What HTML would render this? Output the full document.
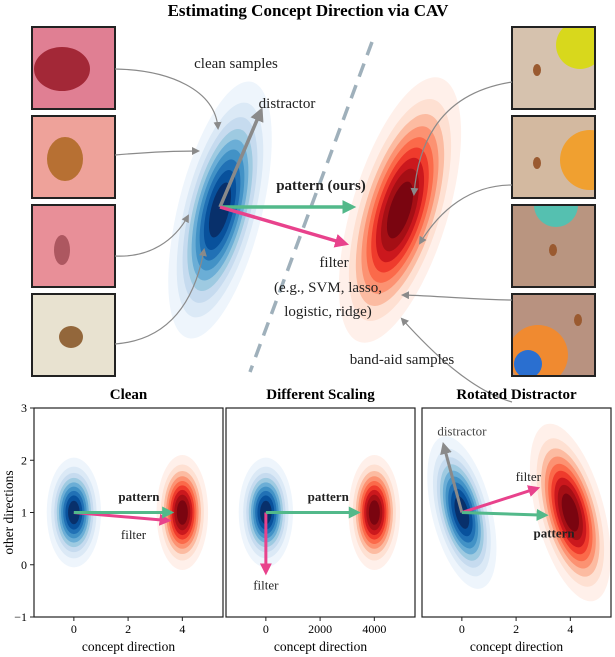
<!DOCTYPE html>
<html><head><meta charset="utf-8">
<style>
html,body{margin:0;padding:0;background:#fff;}
svg{display:block;font-family:"Liberation Serif","DejaVu Serif",serif;}
</style></head>
<body>
<svg id="fig" width="615" height="657" viewBox="0 0 615 657" xmlns="http://www.w3.org/2000/svg">
<defs>
<marker id="ag" markerWidth="4" markerHeight="4" refX="2.2" refY="2" orient="auto" markerUnits="strokeWidth"><path d="M0,0 L4,2 L0,4 z" fill="#52b98a"/></marker>
<marker id="ap" markerWidth="4" markerHeight="4" refX="2.2" refY="2" orient="auto" markerUnits="strokeWidth"><path d="M0,0 L4,2 L0,4 z" fill="#e8428c"/></marker>
<marker id="ad" markerWidth="4" markerHeight="4" refX="2.2" refY="2" orient="auto" markerUnits="strokeWidth"><path d="M0,0 L4,2 L0,4 z" fill="#8a8a8a"/></marker>
<marker id="as" markerWidth="8" markerHeight="8" refX="6" refY="4" orient="auto" markerUnits="userSpaceOnUse"><path d="M0,0 L8,4 L0,8 z" fill="#8a8a8a"/></marker>
</defs>
<text x="308" y="16" text-anchor="middle" font-size="17" font-weight="bold">Estimating Concept Direction via CAV</text>
<g id="topg"></g>
<g id="panels"></g>
</svg>
<script>
const NS="http://www.w3.org/2000/svg";
function mk(tag,attrs,parent){const e=document.createElementNS(NS,tag);for(const k in attrs)e.setAttribute(k,attrs[k]);parent.appendChild(e);return e;}
const BLUES=["#eef5fc","#dbe9f6","#c6dbef","#9ecae1","#6baed6","#4292c6","#2171b5","#08519c","#08306b"];
const REDS=["#fff0ea","#fee0d2","#fcbba1","#fc9272","#fb6a4a","#ef3b2c","#cb181d","#a50f15","#7a0510"];

// ---------- data ----------
const panelTitles=["Clean","Different Scaling","Rotated Distractor"];
const panelXTicks=[[0,2,4],[0,2000,4000],[0,2,4]];
const panelXScale=[1,1000,1];
const yTicks=[-1,0,1,2,3];
const cleanCenter=[0,1];
const bandCenter=[4,1];
const blobSpreadX=[1.0,1.0,1.1];
const blobSpreadY=[1.05,1.05,1.5];
const redSpreadX=[0.95,0.95,1.25];
const redSpreadY=[1.1,1.1,1.75];
const blobTiltDeg=[0,0,-14];
const redTiltDeg=[0,0,-15];
const patternTips=[[3.5,1],[3300,1],[3.0,0.95]];
const filterTips=[[3.4,0.85],[0,-0.1],[2.7,1.45]];
const distractorTips=[null,null,[-0.65,2.25]];

// top illustration data
const topBlobCenters=[[220,210],[400,210]];
const topArrowTips={distractor:[260,113],pattern:[358,207],filter:[350,246]};

const topG=document.getElementById('topg');
const leftImgs=[{y:27,bg:"#e07f93",spot:"#9c1f2e",sx:62,sy:42,rx:28,ry:22},{y:116,bg:"#eea29a",spot:"#b06a28",sx:65,sy:43,rx:18,ry:22},{y:205,bg:"#e88f98",spot:"#a6515a",sx:62,sy:45,rx:8,ry:15},{y:294,bg:"#e8e2d0",spot:"#8a5a2a",sx:71,sy:43,rx:12,ry:11}];
leftImgs.forEach((im,i)=>{
 const g=mk('g',{},topG);
 
 
 mk('rect',{x:32,y:im.y,width:83,height:82,fill:im.bg,stroke:"#222","stroke-width":2},g);
 mk('ellipse',{cx:im.sx,cy:im.y+im.sy,rx:im.rx,ry:im.ry,fill:im.spot,opacity:0.9},g);
});
const rightImgs=[{y:27,bg:"#d6c2ae",patch:"#d8d81c",px:580,py:45,pr:24,spot:[537,70]},{y:116,bg:"#d3b9a0",patch:"#f0a030",px:590,py:160,pr:30,spot:[537,163]},{y:205,bg:"#b99580",patch:"#55c0b0",px:556,py:205,pr:22,spot:[553,250]},{y:294,bg:"#b89280",patch:"#f08a30",px:538,py:355,pr:30,spot:[578,320]}];
rightImgs.forEach((im,i)=>{
 const g=mk('g',{},topG);
 
 
 mk('rect',{x:512,y:im.y,width:83,height:82,fill:im.bg,stroke:"#222","stroke-width":2},g);
 const cp=mk('clipPath',{id:'cp'+i},g);mk('rect',{x:513,y:im.y+1,width:81,height:80},cp);
 const gg=mk('g',{'clip-path':'url(#cp'+i+')'},g);
 mk('circle',{cx:im.px,cy:im.py,r:im.pr,fill:im.patch},gg);
 if(i===3)mk('circle',{cx:528,cy:364,r:14,fill:"#2a6fd0"},gg);
 mk('ellipse',{cx:im.spot[0],cy:im.spot[1],rx:4,ry:6,fill:"#9a5a30"},gg);
});
function blobs(parent,cx,cy,sx,sy,rot,cols,name){
 const g=mk('g',{transform:`translate(${cx},${cy}) rotate(${rot})`},parent);
 
 
 const n=cols.length, base=Math.sqrt(-2*Math.log(1/(n+1)));
 cols.forEach((c,k)=>{const f=Math.sqrt(-2*Math.log((k+1)/(n+1)))/base;mk('ellipse',{cx:0,cy:0,rx:sx*f,ry:sy*f,fill:c},g);});
 return g;
}
blobs(topG,topBlobCenters[0][0],topBlobCenters[0][1],42,132,14,BLUES,'clean-distribution');
blobs(topG,topBlobCenters[1][0],topBlobCenters[1][1],48,138,17,REDS,'bandaid-distribution');
mk('line',{x1:372,y1:42,x2:250,y2:372,stroke:"#9fb0bb","stroke-width":3.5,"stroke-dasharray":"14,9"},topG);
const curves=[["M115,69 C170,70 215,90 218,128"],["M115,155 C150,152 175,151 198,151"],["M115,256 C150,258 175,240 188,216"],["M115,344 C170,340 195,300 204,250"],["M512,82 C460,90 420,120 414,194"],["M512,185 C470,185 440,210 420,243"],["M512,300 C480,300 440,296 403,295"],["M512,402 C470,390 430,350 402,319"]];
curves.forEach((c,i)=>{const p=mk('path',{d:c[0],fill:"none",stroke:"#8a8a8a","stroke-width":1.2,"marker-end":"url(#as)"},topG);});
const o=[220,207];
let a;
a=mk('line',{x1:o[0],y1:o[1],x2:topArrowTips.distractor[0],y2:topArrowTips.distractor[1],stroke:"#8a8a8a","stroke-width":3.5,"marker-end":"url(#ad)"},topG);
a=mk('line',{x1:o[0],y1:o[1],x2:topArrowTips.pattern[0]-8,y2:topArrowTips.pattern[1],stroke:"#52b98a","stroke-width":3.5,"marker-end":"url(#ag)"},topG);
a=mk('line',{x1:o[0],y1:o[1],x2:topArrowTips.filter[0]-7,y2:topArrowTips.filter[1]-3,stroke:"#e8428c","stroke-width":3.5,"marker-end":"url(#ap)"},topG);
const tl=[["clean samples",236,68,15,"normal","clean-samples-label"],["distractor",287,108,15,"normal","distractor-label"],["pattern (ours)",321,190,15,"bold","pattern-label"],["filter",334,267,15,"normal","filter-label"],["(e.g., SVM, lasso,",328,292,15,"normal","filter-examples-line1"],["logistic, ridge)",328,316,15,"normal","filter-examples-line2"],["band-aid samples",402,364,15,"normal","bandaid-samples-label"]];
tl.forEach(t=>{const e=mk('text',{x:t[1],y:t[2],"text-anchor":"middle","font-size":t[3],"font-weight":t[4],fill:"#222"},topG);e.textContent=t[0];});

// ---------- bottom panels ----------
const P=document.getElementById('panels');
const panelLeft=[34,226,422], panelW=189;
const yTop=408, yBot=617, yMin=-1, yMax=3, xMin=-1.47, xMax=5.5;
function sy(v){return yBot-(v-yMin)/(yMax-yMin)*(yBot-yTop);}
panelTitles.forEach((title,i)=>{
 const L=panelLeft[i];
 const s=panelXScale[i];
 const sx=v=>L+((v/s)-xMin)/(xMax-xMin)*panelW;
 const g=mk('g',{},P);
 
 
 const cp=mk('clipPath',{id:'pc'+i},g);mk('rect',{x:L,y:yTop,width:panelW,height:yBot-yTop},cp);
 const inner=mk('g',{'clip-path':'url(#pc'+i+')'},g);
 const pxX=panelW/(xMax-xMin), pxY=(yBot-yTop)/(yMax-yMin);
 blobs(inner,sx(cleanCenter[0]*s),sy(cleanCenter[1]),blobSpreadX[i]*pxX,blobSpreadY[i]*pxY,blobTiltDeg[i],BLUES,'clean-density');
 blobs(inner,sx(bandCenter[0]*s),sy(bandCenter[1]),redSpreadX[i]*pxX,redSpreadY[i]*pxY,redTiltDeg[i],REDS,'bandaid-density');
 const ox=sx(0),oy=sy(1);
 if(distractorTips[i]){const d=distractorTips[i];const e=mk('line',{x1:ox,y1:oy,x2:sx(d[0]*s),y2:sy(d[1]),stroke:"#8a8a8a","stroke-width":3,"marker-end":"url(#ad)"},inner);}
 let e=mk('line',{x1:ox,y1:oy,x2:sx(filterTips[i][0]),y2:sy(filterTips[i][1]),stroke:"#e8428c","stroke-width":3,"marker-end":"url(#ap)"},inner);
 e=mk('line',{x1:ox,y1:oy,x2:sx(patternTips[i][0]),y2:sy(patternTips[i][1]),stroke:"#52b98a","stroke-width":3,"marker-end":"url(#ag)"},inner);
 mk('rect',{x:L,y:yTop,width:panelW,height:yBot-yTop,fill:"none",stroke:"#222","stroke-width":1.2},g);
 const t=mk('text',{x:L+panelW/2,y:399,"text-anchor":"middle","font-size":15,"font-weight":"bold"},g);t.textContent=title;
 panelXTicks[i].forEach(v=>{mk('line',{x1:sx(v),x2:sx(v),y1:yBot,y2:yBot+4,stroke:"#222"},g);const tt=mk('text',{x:sx(v),y:633,"text-anchor":"middle","font-size":12},g);tt.textContent=v;});
 const xl=mk('text',{x:L+panelW/2,y:651,"text-anchor":"middle","font-size":13.5},g);xl.textContent="concept direction";
 const labs=[[["pattern",sx(2.4*s),sy(1.3),"bold"],["filter",sx(2.2*s),sy(0.57),"normal"]],[["pattern",sx(2300),sy(1.3),"bold"],["filter",sx(0),sy(-0.4),"normal"]],[["distractor",sx(0.0),sy(2.55),"normal"],["filter",sx(2.45),sy(1.68),"normal"],["pattern",sx(3.4),sy(0.6),"bold"]]][i];
 labs.forEach(l=>{const lt=mk('text',{x:l[1],y:l[2]+4,"text-anchor":"middle","font-size":13,"font-weight":l[3],fill:l[0]==="distractor"?"#444":"#222"},g);lt.textContent=l[0];});
});
yTicks.forEach(v=>{mk('line',{x1:30,x2:34,y1:sy(v),y2:sy(v),stroke:"#222"},P);const t=mk('text',{x:27,y:sy(v)+4,"text-anchor":"end","font-size":12},P);t.textContent=v<0?"\u2212"+(-v):v;});
const yl=mk('text',{x:0,y:0,transform:`translate(13,${sy(1)}) rotate(-90)`,"text-anchor":"middle","font-size":13.5},P);yl.textContent="other directions";
</script>
</body></html>
